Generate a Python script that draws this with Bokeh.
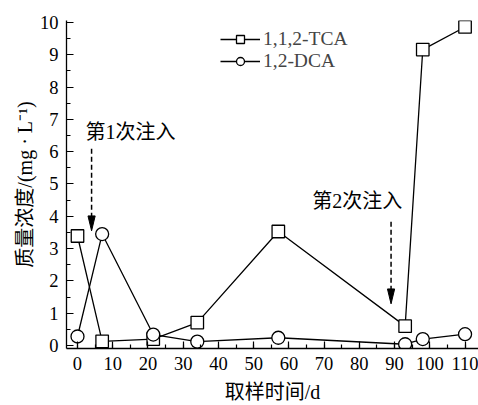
from bokeh.plotting import figure
from bokeh.models import (Range1d, SingleIntervalTicker, Legend, LegendItem)
from bokeh.core.properties import value
from bokeh.embed import file_html
from bokeh.resources import INLINE

# ---- data ----
tca_x = [0, 7, 21.5, 34, 57, 93, 98, 110]
tca_y = [3.39, 0.13, 0.2, 0.71, 3.53, 0.6, 9.16, 9.86]
dca_x = [0, 7, 21.5, 34, 57, 93, 98, 110]
dca_y = [0.28, 3.45, 0.34, 0.12, 0.24, 0.04, 0.2, 0.35]
series_labels = ["1,1,2-TCA", "1,2-DCA"]

note_text = ["第1次注入", "第2次注入"]
note_x = [2.3, 66.6]
note_y = [6.62, 4.47]

arrow_x = [4.0, 89.0]
arrow_y0 = [6.09, 3.83]
arrow_y1 = [3.55, 1.29]

x_label = "取样时间/d"
y_label = "质量浓度/(mg · L⁻¹)"

SERIF = "Liberation Serif"
MIXED = "Liberation Serif, Noto Sans CJK SC"

X0, X1 = -3.12, 113.82
Y0, Y1 = -0.092, 10.06
FRAME_W, FRAME_H = 412, 330

p = figure(width=478, height=405, x_range=Range1d(X0, X1),
           y_range=Range1d(Y0, Y1), output_backend="svg",
           toolbar_location=None, min_border_left=66, min_border_right=0,
           min_border_top=20, min_border_bottom=55)
p.outline_line_color = None
p.grid.visible = False
p.background_fill_color = "white"

p.xaxis.ticker = SingleIntervalTicker(interval=10, num_minor_ticks=2)
p.yaxis.ticker = SingleIntervalTicker(interval=1, num_minor_ticks=2)
for ax in (p.xaxis, p.yaxis):
    ax.axis_line_width = 1.3
    ax.major_tick_in = 7
    ax.major_tick_out = 0
    ax.minor_tick_in = 4
    ax.minor_tick_out = 0
    ax.major_tick_line_width = 1.2
    ax.minor_tick_line_width = 1.2
    ax.major_label_text_font = SERIF
    ax.major_label_text_font_size = "18.5px"
    ax.major_label_text_color = "black"
    ax.axis_label_text_font = MIXED
    ax.axis_label_text_font_size = "20px"
    ax.axis_label_text_font_style = "normal"
    ax.axis_label_text_color = "black"
    ax.major_label_standoff = 8
p.xaxis.axis_label = x_label
p.yaxis.axis_label = y_label
p.xaxis.axis_label_standoff = 8
p.yaxis.axis_label_standoff = 1

l1 = p.line(tca_x, tca_y, line_color="black", line_width=1.3)
l2 = p.line(dca_x, dca_y, line_color="black", line_width=1.3)
s1 = p.scatter(tca_x, tca_y, marker="square", size=12.5, fill_color="white",
               line_color="black", line_width=1.3)
s2 = p.scatter(dca_x, dca_y, marker="circle", size=13, fill_color="white",
               line_color="black", line_width=1.3)

p.text(note_x, note_y, text=note_text, text_font=value(MIXED),
       text_font_size="20px", text_align="left", text_baseline="middle",
       text_color="black")

# dashed arrows with a narrow filled head (head size given in pixels)
ux = FRAME_W / (X1 - X0)
uy = FRAME_H / (Y1 - Y0)
head_len = 15 / uy
head_half = 3.6 / ux
p.segment(x0=arrow_x, y0=arrow_y0, x1=arrow_x,
          y1=[y + head_len * 0.5 for y in arrow_y1],
          line_color="black", line_width=1.5, line_dash="5 3")
p.patches(xs=[[x - head_half, x, x + head_half] for x in arrow_x],
          ys=[[y + head_len, y, y + head_len] for y in arrow_y1],
          fill_color="black", line_color="black", line_width=1)

legend = Legend(items=[LegendItem(label=series_labels[0], renderers=[l1, s1]),
                       LegendItem(label=series_labels[1], renderers=[l2, s2])],
                location=(154, 276), glyph_width=40, glyph_height=20,
                label_height=20, spacing=0, padding=0, margin=0,
                label_standoff=3, label_text_font=SERIF,
                label_text_font_size="19.5px", border_line_color=None,
                background_fill_alpha=0)
p.add_layout(legend)

open("out.html", "w").write(file_html(p, INLINE))
